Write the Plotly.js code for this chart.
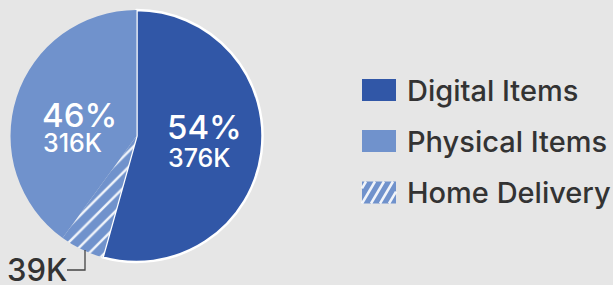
<!DOCTYPE html>
<html>
<head>
<meta charset="utf-8">
<script src="https://cdn.plot.ly/plotly-3.0.1.min.js"></script>
<style>html,body{margin:0;padding:0;background:#e6e6e6;}</style>
</head>
<body>
<div id="chart" style="width:613px;height:285px;"></div>
<script>
// ---- data ----
const categories = ['Digital Items', 'Physical Items', 'Home Delivery'];
const valuesK = [376, 316, 39];            // thousands; Home Delivery is part of Physical Items
const colors = ['#3157a7', '#7092cc', '#7092cc'];

// ---- derived ----
const W = 613, H = 285;
const total = valuesK[0] + valuesK[1];
const pct = v => Math.round(v / total * 100) + '%';
const px = x => x / W;
const py = y => 1 - y / H;

const pieTrace = {
  type: 'pie',
  labels: [categories[0], categories[2], categories[1]],
  values: [valuesK[0], valuesK[2], valuesK[1] - valuesK[2]],
  sort: false,
  direction: 'clockwise',
  rotation: 0,
  textinfo: 'none',
  hoverinfo: 'none',
  showlegend: false,
  domain: {x: [px(10.5), px(262.5)], y: [py(262), py(10)]},
  marker: {
    colors: [colors[0], colors[2], colors[1]],
    line: {color: '#ffffff', width: [2.5, 0, 0]},
    pattern: {
      shape: ['', '/', ''],
      fgcolor: 'rgba(255,255,255,0.9)',
      bgcolor: colors[2],
      fillmode: 'replace',
      size: 11,
      solidity: 0.22
    }
  }
};

const txtFont = (size, color) => ({family: 'Inter, Liberation Sans, Arial, sans-serif', size: size, color: color, weight: 500});
const ann = (text, x, y, size, color) => ({
  text: text, xref: 'paper', yref: 'paper', x: px(x), y: py(y),
  xanchor: 'left', yanchor: 'middle', showarrow: false, font: txtFont(size, color)
});

const annotations = [
  ann(pct(valuesK[0]), 165, 127, 33, '#ffffff'),
  ann(valuesK[0] + 'K', 166, 158, 25, '#ffffff'),
  ann(pct(valuesK[1]), 40, 115, 33, '#ffffff'),
  ann(valuesK[1] + 'K', 41, 143, 25, '#ffffff'),
  ann(valuesK[2] + 'K', 5, 269, 31, '#333333')
];

// legend
const legY = [90, 141, 192.5];
const shapes = [];
categories.forEach((c, i) => {
  annotations.push(ann(c, 405, legY[i], 29, '#333333'));
  shapes.push({type: 'rect', xref: 'paper', yref: 'paper', x0: px(362), x1: px(396),
    y0: py(legY[i] - 11), y1: py(legY[i] + 11), fillcolor: colors[i], line: {width: 0}});
});
// hatch lines in the Home Delivery swatch
(function () {
  const x0 = 362, x1 = 396, yt = legY[2] - 11, yb = legY[2] + 11;
  const dx = 13; // horizontal run over full height
  for (let s = x0 - dx + 4; s < x1; s += 9) {
    let ax = s, ay = yb, bx = s + dx, by = yt;
    const slope = (by - ay) / (bx - ax);
    if (ax < x0) { ay = ay + slope * (x0 - ax); ax = x0; }
    if (bx > x1) { by = ay + slope * (x1 - ax); bx = x1; }
    if (bx - ax < 1) continue;
    shapes.push({type: 'line', xref: 'paper', yref: 'paper', x0: px(ax), y0: py(ay), x1: px(bx), y1: py(by),
      line: {color: 'rgba(255,255,255,0.9)', width: 2.5}});
  }
})();
// leader line for the Home Delivery value
shapes.push({type: 'path', xref: 'paper', yref: 'paper',
  path: `M ${px(67)} ${py(270)} L ${px(85)} ${py(270)} L ${px(85)} ${py(250)}`,
  line: {color: '#444444', width: 1.3}});

const layout = {
  width: W, height: H,
  margin: {l: 0, r: 0, t: 0, b: 0},
  paper_bgcolor: '#e6e6e6',
  plot_bgcolor: '#e6e6e6',
  showlegend: false,
  annotations: annotations,
  shapes: shapes
};

Plotly.newPlot('chart', [pieTrace], layout, {staticPlot: true, displayModeBar: false});
</script>
</body>
</html>
